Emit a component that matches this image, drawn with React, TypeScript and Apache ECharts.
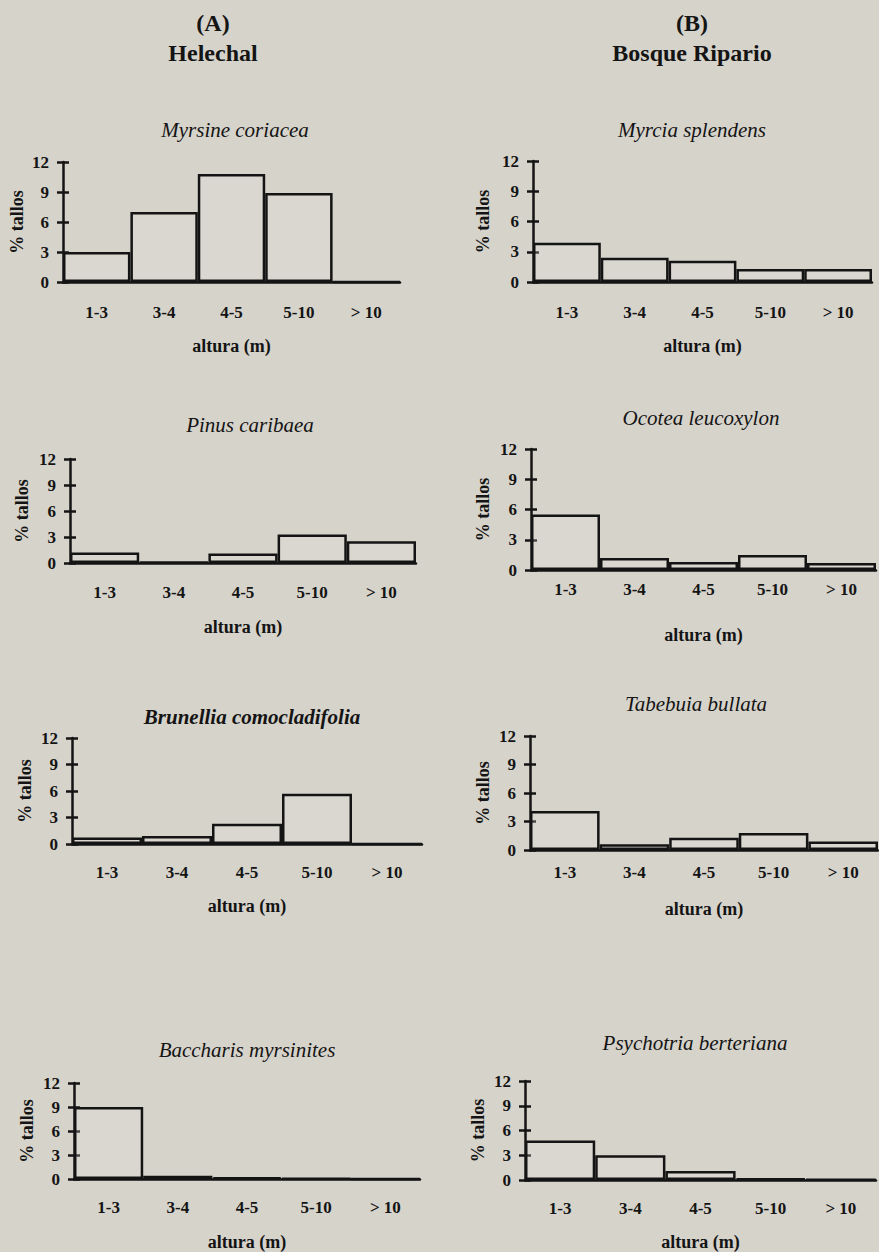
import React, { useEffect, useRef } from "react";
import * as echarts from "echarts";

const categories = ["1-3", "3-4", "4-5", "5-10", "> 10"];
const yTicks = [0, 3, 6, 9, 12];

const myrsine = [3.0, 7.0, 10.8, 8.9, 0];
const myrcia = [3.9, 2.4, 2.1, 1.3, 1.3];
const pinus = [1.2, 0.1, 1.1, 3.3, 2.5];
const ocotea = [5.5, 1.2, 0.8, 1.5, 0.7];
const brunellia = [0.75, 0.9, 2.3, 5.7, 0];
const tabebuia = [4.1, 0.6, 1.3, 1.8, 0.9];
const baccharis = [9.0, 0.4, 0.2, 0.05, 0];
const psychotria = [4.8, 3.0, 1.1, 0.2, 0.05];

const speciesNames = [
  "Myrsine coriacea",
  "Myrcia splendens",
  "Pinus caribaea",
  "Ocotea leucoxylon",
  "Brunellia comocladifolia",
  "Tabebuia bullata",
  "Baccharis myrsinites",
  "Psychotria berteriana",
];
const speciesValues = [myrsine, myrcia, pinus, ocotea, brunellia, tabebuia, baccharis, psychotria];

const headers = [
  { text: "(A)", x: 213, y: 23 },
  { text: "Helechal", x: 213, y: 53 },
  { text: "(B)", x: 692, y: 23 },
  { text: "Bosque Ripario", x: 692, y: 53 },
];

// layout: grid box (left x, right x, top y, zero y), title pos, label margins
const layout = [
  { l: 63, r: 400, t: 162, b: 282, tx: 235, ty: 130, lm: 22, ng: 55, yg: 37, bold: false },
  { l: 533, r: 872, t: 161, b: 282, tx: 692, ty: 130, lm: 22, ng: 55, yg: 41, bold: false },
  { l: 70, r: 416, t: 459, b: 563, tx: 250, ty: 425, lm: 21, ng: 55, yg: 39, bold: false },
  { l: 531, r: 876, t: 449, b: 570, tx: 701, ty: 418, lm: 11, ng: 56, yg: 39, bold: false },
  { l: 72, r: 422, t: 738, b: 844, tx: 252, ty: 717, lm: 20, ng: 53, yg: 38, bold: true },
  { l: 530, r: 878, t: 736, b: 850, tx: 696, ty: 704, lm: 14, ng: 50, yg: 38, bold: false },
  { l: 74, r: 420, t: 1083, b: 1180, tx: 247, ty: 1050, lm: 20, ng: 54, yg: 38, bold: false },
  { l: 525, r: 876, t: 1081, b: 1183, tx: 695, ty: 1043, lm: 20, ng: 53, yg: 38, bold: false },
];

const W = 879;
const H = 1252;
const FONT = "'Liberation Serif', 'DejaVu Serif', serif";
const INK = "#141414";
const BG = "#d6d3cb";

export default function App() {
  const ref = useRef<HTMLDivElement>(null);

  useEffect(() => {
    if (!ref.current) return;
    const chart = echarts.init(ref.current, undefined, { renderer: "svg" });

    const grid: any[] = [];
    const xAxis: any[] = [];
    const yAxis: any[] = [];
    const series: any[] = [];
    const graphic: any[] = [];

    layout.forEach((p, i) => {
      grid.push({ left: p.l, top: p.t, width: p.r - p.l, height: p.b - p.t, containLabel: false });
      xAxis.push({
        type: "category",
        gridIndex: i,
        data: categories,
        axisLine: { show: true, onZero: false, lineStyle: { color: INK, width: 2.5 } },
        axisTick: { show: false },
        axisLabel: {
          color: INK,
          fontFamily: FONT,
          fontWeight: "bold",
          fontSize: 17,
          margin: p.lm,
          interval: 0,
        },
        name: "altura (m)",
        nameLocation: "middle",
        nameGap: p.ng,
        nameTextStyle: { color: INK, fontFamily: FONT, fontWeight: "bold", fontSize: 18 },
        splitLine: { show: false },
      });
      yAxis.push({
        type: "value",
        gridIndex: i,
        min: yTicks[0],
        max: yTicks[yTicks.length - 1],
        interval: 3,
        axisLine: { show: true, lineStyle: { color: INK, width: 2.5 } },
        axisTick: { show: true, length: 6, lineStyle: { color: INK, width: 2.5 } },
        axisLabel: {
          color: INK,
          fontFamily: FONT,
          fontWeight: "bold",
          fontSize: 17,
          margin: 14,
        },
        splitLine: { show: false },
        name: "% tallos",
        nameLocation: "middle",
        nameGap: p.yg,
        nameTextStyle: { color: INK, fontFamily: FONT, fontWeight: "bold", fontSize: 18 },
      });
      yAxis.push({
        type: "value",
        gridIndex: i,
        position: "left",
        min: yTicks[0],
        max: yTicks[yTicks.length - 1],
        interval: 3,
        axisLine: { show: false },
        axisTick: { show: true, inside: true, length: 6, lineStyle: { color: INK, width: 2.5 } },
        axisLabel: { show: false },
        splitLine: { show: false },
      });
      series.push({
        type: "bar",
        name: speciesNames[i],
        xAxisIndex: i,
        yAxisIndex: i * 2,
        data: speciesValues[i],
        barCategoryGap: "0%",
        itemStyle: { color: "rgba(232,229,222,0.25)", borderColor: INK, borderWidth: 2.5 },
        silent: true,
      });
      graphic.push({
        type: "text",
        x: p.tx,
        y: p.ty,
        style: {
          text: speciesNames[i],
          font: `italic ${p.bold ? "bold " : ""}21px ${FONT}`,
          fill: INK,
          textAlign: "center",
          textVerticalAlign: "middle",
        },
      });
    });

    headers.forEach((h) => {
      graphic.push({
        type: "text",
        x: h.x,
        y: h.y,
        style: {
          text: h.text,
          font: `bold 24px ${FONT}`,
          fill: INK,
          textAlign: "center",
          textVerticalAlign: "middle",
        },
      });
    });

    chart.setOption({
      animation: false,
      backgroundColor: BG,
      grid,
      xAxis,
      yAxis,
      series,
      graphic,
    });

    return () => chart.dispose();
  }, []);

  return (
    <div
      ref={ref}
      style={{ position: "absolute", left: 0, top: 0, width: W, height: H, background: BG }}
    />
  );
}
